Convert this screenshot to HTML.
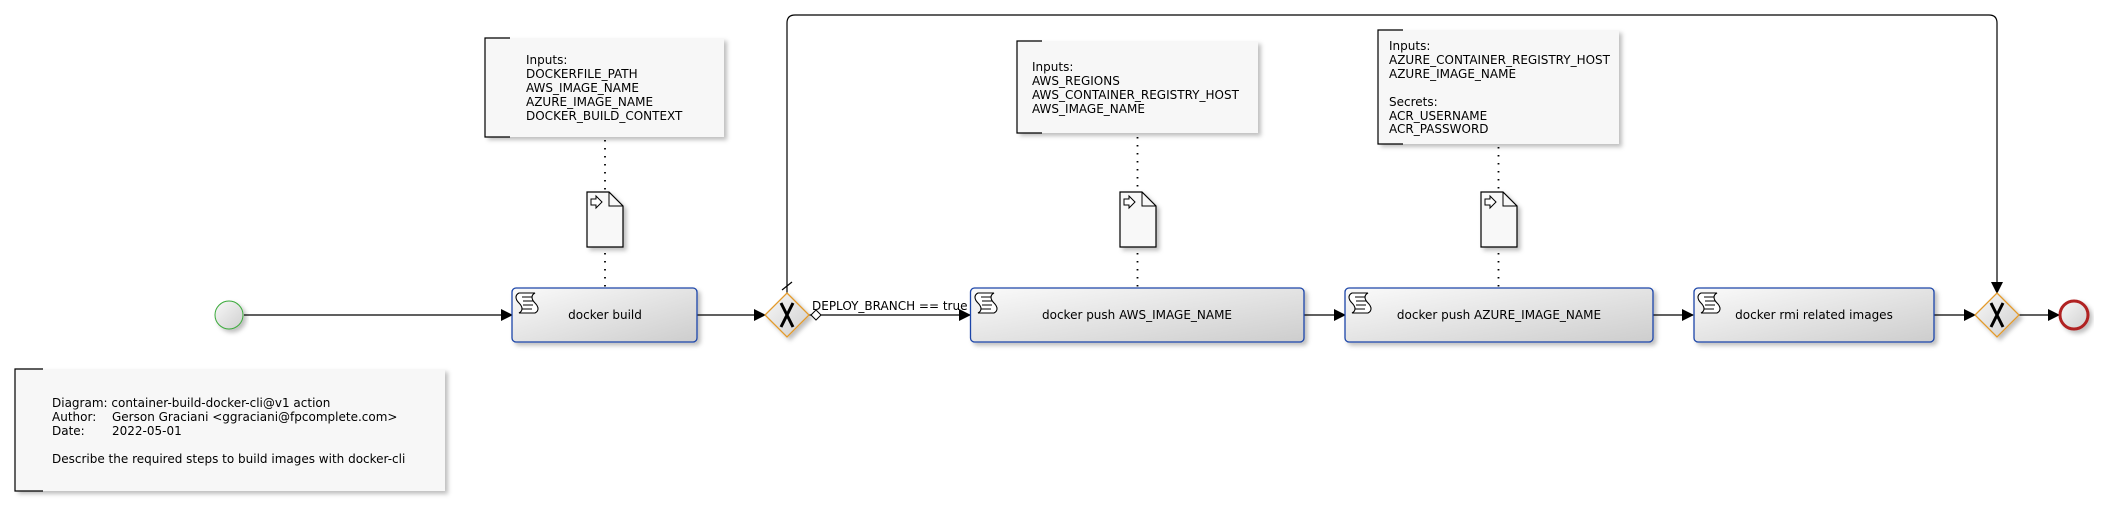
<!DOCTYPE html>
<html><head><meta charset="utf-8"><style>
html,body{margin:0;padding:0;background:#fff;width:2105px;height:507px;overflow:hidden}
text{font-family:"DejaVu Sans","Liberation Sans",sans-serif;font-size:12px;fill:#000}
</style></head><body>
<svg width="2105" height="507" viewBox="0 0 2105 507" xmlns="http://www.w3.org/2000/svg">
<defs>
<linearGradient id="tg" x1="0" y1="0" x2="1" y2="1"><stop offset="0" stop-color="#fafafa"/><stop offset="1" stop-color="#cdcdcd"/></linearGradient>
<linearGradient id="cg" x1="0" y1="0" x2="1" y2="1"><stop offset="0" stop-color="#f8f8f8"/><stop offset="1" stop-color="#cfcfcf"/></linearGradient>
<filter id="sh" x="-10%" y="-10%" width="130%" height="140%"><feDropShadow dx="3" dy="3" stdDeviation="2" flood-color="#000" flood-opacity="0.25"/></filter>
<marker id="ar" markerWidth="12" markerHeight="12" refX="11" refY="6" orient="auto" markerUnits="userSpaceOnUse"><path d="M0,0 L12,6 L0,12 z" fill="#000"/></marker>
<g id="scroll"><path d="M4,2 h16 c-4,2 -4,6 0,10 c4,4 4,8 0,10 h-16 c4,-2 4,-6 0,-10 c-4,-4 -4,-8 0,-10 z" fill="#fff" stroke="#000" stroke-width="1.1"/><path d="M7,6 h10 M8,10 h10 M8,14 h10 M7,18 h10" stroke="#000" stroke-width="1"/></g>
<g id="doc"><path d="M0,0 h22 l14,14 v41 h-36 z" fill="#f8f8f8" stroke="#000" stroke-width="1.2" filter="url(#sh)"/><path d="M22,0 v14 h14" fill="none" stroke="#000"/><path d="M4,7 h5 v-3 l6,6 l-6,6 v-3 h-5 z" fill="#fff" stroke="#000" stroke-width="1"/></g>
</defs>

<g>
<rect x="15" y="369" width="430" height="122" fill="#f7f7f7" filter="url(#sh)"/>
<path d="M43,369 H15 V491 H43" fill="none" stroke="#000" stroke-width="1.2"/>
<text x="52" y="407">Diagram: container-build-docker-cli@v1 action</text>
<text x="52" y="421">Author:</text><text x="112" y="421">Gerson Graciani &lt;ggraciani@fpcomplete.com&gt;</text>
<text x="52" y="435">Date:</text><text x="112" y="435">2022-05-01</text>
<text x="52" y="463">Describe the required steps to build images with docker-cli</text>
</g>
<g>
<rect x="485" y="38" width="239" height="99" fill="#f7f7f7" filter="url(#sh)"/>
<path d="M510,38 H485 V137 H510" fill="none" stroke="#000" stroke-width="1.2"/>
<text x="526" y="64">Inputs:</text><text x="526" y="78">DOCKERFILE_PATH</text><text x="526" y="92">AWS_IMAGE_NAME</text><text x="526" y="106">AZURE_IMAGE_NAME</text><text x="526" y="120">DOCKER_BUILD_CONTEXT</text>
</g>
<g>
<rect x="1017" y="41" width="241" height="92" fill="#f7f7f7" filter="url(#sh)"/>
<path d="M1042,41 H1017 V133 H1042" fill="none" stroke="#000" stroke-width="1.2"/>
<text x="1032" y="71">Inputs:</text><text x="1032" y="85">AWS_REGIONS</text><text x="1032" y="99">AWS_CONTAINER_REGISTRY_HOST</text><text x="1032" y="113">AWS_IMAGE_NAME</text>
</g>
<g>
<rect x="1378" y="30" width="241" height="114" fill="#f7f7f7" filter="url(#sh)"/>
<path d="M1403,30 H1378 V144 H1403" fill="none" stroke="#000" stroke-width="1.2"/>
<text x="1389" y="50">Inputs:</text><text x="1389" y="64">AZURE_CONTAINER_REGISTRY_HOST</text><text x="1389" y="78">AZURE_IMAGE_NAME</text>
<text x="1389" y="106">Secrets:</text><text x="1389" y="120">ACR_USERNAME</text><text x="1389" y="133">ACR_PASSWORD</text>
</g>

<g stroke="#000" stroke-width="1.8" stroke-dasharray="1.5,6.5" fill="none">
<path d="M605,140 V192 M605,253 V288"/>
<path d="M1137.5,137 V192 M1137.5,253 V288"/>
<path d="M1498.5,147 V192 M1498.5,253 V288"/>
</g>
<use href="#doc" x="587" y="192"/>
<use href="#doc" x="1120" y="192"/>
<use href="#doc" x="1481" y="192"/>

<g stroke="#000" stroke-width="1.2" fill="none">
<path d="M244,315 H512" marker-end="url(#ar)"/>
<path d="M697,315 H765" marker-end="url(#ar)"/>
<path d="M809,315 H970" marker-end="url(#ar)"/>
<path d="M1304,315 H1345" marker-end="url(#ar)"/>
<path d="M1653,315 H1693" marker-end="url(#ar)"/>
<path d="M1934,315 H1975" marker-end="url(#ar)"/>
<path d="M2019,315 H2059" marker-end="url(#ar)"/>
<path d="M787,293 V23 Q787,15 795,15 H1989 Q1997,15 1997,23 V293" marker-end="url(#ar)"/>
<path d="M782,290 L792,282"/>
</g>
<path d="M811,315 l5,-5 l5,5 l-5,5 z" fill="#fff" stroke="#000" stroke-width="1"/>
<text x="812" y="310">DEPLOY_BRANCH == true</text>

<circle cx="229" cy="315" r="14" fill="url(#cg)" stroke="#3aaa3a" stroke-width="1" filter="url(#sh)"/>
<circle cx="2074" cy="315" r="14" fill="url(#cg)" stroke="#b02020" stroke-width="3" filter="url(#sh)"/>

<g stroke="#1a44a8" stroke-width="1.3">
<rect x="512" y="288" width="185" height="54" rx="4" fill="url(#tg)" filter="url(#sh)"/>
<rect x="970.5" y="288" width="333.5" height="54" rx="4" fill="url(#tg)" filter="url(#sh)"/>
<rect x="1345" y="288" width="308" height="54" rx="4" fill="url(#tg)" filter="url(#sh)"/>
<rect x="1694" y="288" width="240" height="54" rx="4" fill="url(#tg)" filter="url(#sh)"/>
</g>
<use href="#scroll" x="515" y="291"/>
<use href="#scroll" x="974" y="291"/>
<use href="#scroll" x="1348" y="291"/>
<use href="#scroll" x="1697" y="291"/>
<g style="fill:#222">
<text x="605" y="319" text-anchor="middle">docker build</text>
<text x="1137" y="319" text-anchor="middle">docker push AWS_IMAGE_NAME</text>
<text x="1499" y="319" text-anchor="middle">docker push AZURE_IMAGE_NAME</text>
<text x="1814" y="319" text-anchor="middle">docker rmi related images</text>
</g>

<g>
<path d="M787,293 L809,315 L787,337 L765,315 z" fill="url(#cg)" stroke="#e39a2a" stroke-width="1.3" filter="url(#sh)"/>
<path d="M781,303 L793,327 M793,303 L781,327" stroke="#000" stroke-width="3"/>
<path d="M1997,293 L2019,315 L1997,337 L1975,315 z" fill="url(#cg)" stroke="#e39a2a" stroke-width="1.3" filter="url(#sh)"/>
<path d="M1991,303 L2003,327 M2003,303 L1991,327" stroke="#000" stroke-width="3"/>
</g>
</svg>
</body></html>
